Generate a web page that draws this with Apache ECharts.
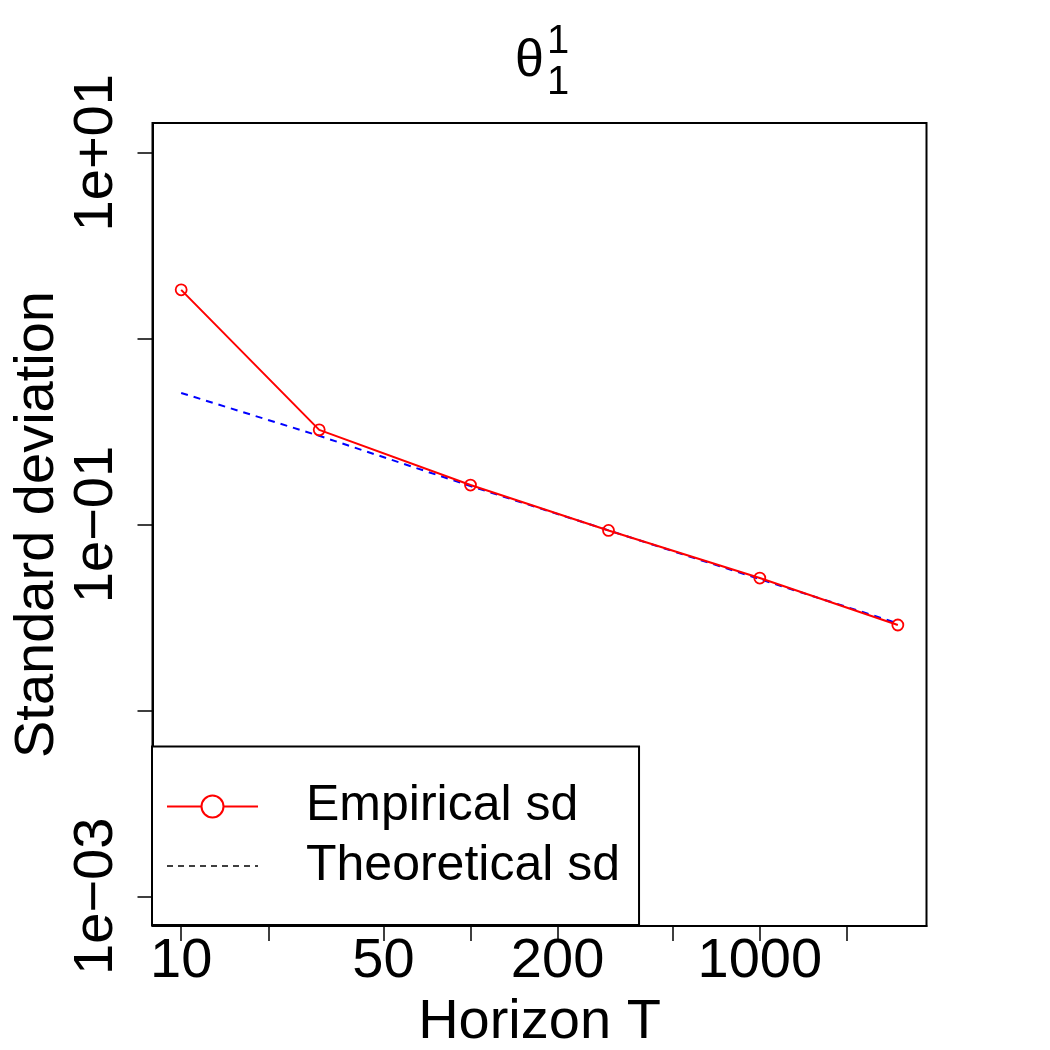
<!DOCTYPE html>
<html><head><meta charset="utf-8">
<script src="https://cdn.jsdelivr.net/npm/echarts@6/dist/echarts.min.js"></script>
<style>html,body{margin:0;padding:0;background:#fff}#c{width:1050px;height:1050px}</style>
</head><body><div id="c"></div>
<script>
const horizons = [10, 30, 100, 300, 1000, 3000];
const empiricalSd = [1.83, 0.323, 0.163, 0.0929, 0.0515, 0.0288];
const theoreticalSd = [0.51, 0.30, 0.161, 0.093, 0.0508, 0.0294];
const xTickValues = [10, 20, 50, 100, 200, 500, 1000, 2000];
const xLabelValues = [10, 50, 200, 1000];
const yTickValues = [10, 1, 0.1, 0.01, 0.001];
const yLabelValues = [10, 0.1, 0.001];
const yLabelTexts = ['1e+01', '1e\u221201', '1e\u221203'];
const seriesNames = ['Empirical sd', 'Theoretical sd'];
const xAxisTitle = 'Horizon T';
const yAxisTitle = 'Standard deviation';
const titleMain = '\u03b8', titleSup = '1', titleSub = '1';

const FF = '"Liberation Sans", Arial, Helvetica, sans-serif';
const chart = echarts.init(document.getElementById('c'), null, {renderer: 'canvas'});

chart.setOption({
  animation: false,
  backgroundColor: '#fff',
  textStyle: {fontFamily: FF, color: '#000'},
  grid: {left: 152.5, right: 123.5, top: 123, bottom: 124, show: true, borderColor: '#000', borderWidth: 2,
         backgroundColor: 'transparent', containLabel: false, outerBoundsMode: 'none'},
  xAxis: {
    type: 'log', logBase: 10,
    min: Math.pow(10, 0.9009), max: Math.pow(10, 3.5762),
    name: xAxisTitle, nameLocation: 'middle', nameGap: 69, nameMoveOverlap: false,
    nameTextStyle: {fontSize: 56, color: '#000', fontFamily: FF},
    axisLine: {show: true, lineStyle: {color: '#000', width: 2}},
    axisTick: {show: true, inside: false, length: 15, lineStyle: {color: '#000', width: 1.5}, customValues: xTickValues},
    axisLabel: {show: true, fontSize: 56, color: '#000', fontFamily: FF, margin: 8, customValues: xLabelValues,
      formatter: v => String(Math.round(v))},
    splitLine: {show: false}, minorTick: {show: false}, minorSplitLine: {show: false}
  },
  yAxis: {
    type: 'log', logBase: 10,
    min: Math.pow(10, -3.16), max: Math.pow(10, 1.16),
    name: yAxisTitle, nameLocation: 'middle', nameGap: 87, nameRotate: 90, nameMoveOverlap: false,
    nameTextStyle: {fontSize: 56, color: '#000', fontFamily: FF},
    axisLine: {show: true, lineStyle: {color: '#000', width: 2}},
    axisTick: {show: true, inside: false, length: 15, lineStyle: {color: '#000', width: 1.5}, customValues: yTickValues},
    axisLabel: {show: true, rotate: 90, fontSize: 56, color: '#000', fontFamily: FF, margin: 28, customValues: yLabelValues,
      formatter: v => {
        const i = yLabelValues.findIndex(u => Math.abs(Math.log10(u) - Math.log10(v)) < 1e-6);
        return i >= 0 ? yLabelTexts[i] : '';
      }},
    splitLine: {show: false}, minorTick: {show: false}, minorSplitLine: {show: false}
  },
  legend: {
    orient: 'vertical', left: 152, top: 746.5,
    padding: [35, 19, 34, 14], itemGap: 9.5, itemWidth: 91, itemHeight: 27.5,
    borderColor: '#000', borderWidth: 2, borderRadius: 0, backgroundColor: '#fff',
    selectedMode: false,
    textStyle: {fontSize: 50, color: '#000', fontFamily: FF, padding: [0, 0, 0, 43]},
    data: [
      {name: seriesNames[0], itemStyle: {color: '#fff', borderColor: '#ff0000', borderWidth: 2},
       lineStyle: {color: '#ff0000', width: 2, type: 'solid'}},
      {name: seriesNames[1], itemStyle: {opacity: 0, borderWidth: 0}, lineStyle: {color: '#000', width: 1.5, type: [6, 5]}}
    ]
  },
  graphic: [
    {type: 'text', x: 529.5, y: 62, style: {text: titleMain, fontSize: 52, fontFamily: FF, fill: '#000', align: 'center', verticalAlign: 'middle'}},
    {type: 'text', x: 547, y: 41.5, style: {text: titleSup, fontSize: 40, fontFamily: FF, fill: '#000', align: 'left', verticalAlign: 'middle'}},
    {type: 'text', x: 547, y: 83, style: {text: titleSub, fontSize: 40, fontFamily: FF, fill: '#000', align: 'left', verticalAlign: 'middle'}}
  ],
  series: [
    {type: 'line', name: seriesNames[1], data: horizons.map((x, i) => [x, theoreticalSd[i]]),
     symbol: 'none', silent: true, z: 2,
     lineStyle: {color: '#0000ff', width: 2, type: [7, 6]}},
    {type: 'line', name: seriesNames[0], data: horizons.map((x, i) => [x, empiricalSd[i]]),
     symbol: 'circle', symbolSize: 11, silent: true, z: 3,
     lineStyle: {color: '#ff0000', width: 2},
     itemStyle: {color: 'rgba(255,255,255,0)', borderColor: '#ff0000', borderWidth: 1.8}}
  ]
});
</script></body></html>
